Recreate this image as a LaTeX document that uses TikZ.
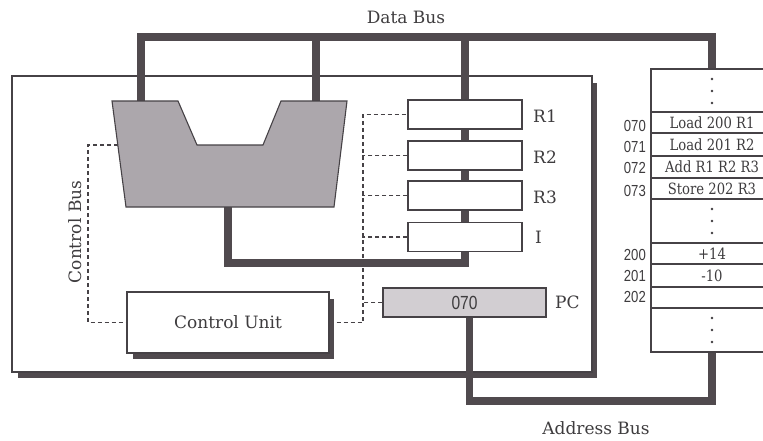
\documentclass[tikz,border=0pt]{standalone}
\usepackage{fontspec}
\setmainfont{DejaVu Serif}
\newfontfamily\memfont{DejaVu Serif}[FakeStretch=0.85]
\newfontfamily\numfont{Liberation Sans}[FakeStretch=0.82]
\usepackage{tikz}
\definecolor{busc}{RGB}{80,74,78}
\definecolor{alufill}{RGB}{172,167,172}
\definecolor{pcfill}{RGB}{210,206,210}
\definecolor{edge}{RGB}{70,66,70}
\definecolor{ink}{RGB}{62,60,62}
\begin{document}
\begin{tikzpicture}[x=1pt,y=-1pt,
  bus/.style={draw=busc, line width=7.5pt, line join=miter},
  box/.style={draw=edge, line width=1.1pt, fill=white},
  reg/.style={box, minimum width=114pt, minimum height=29pt, inner sep=0pt},
  lbl/.style={font=\fontsize{17}{19}\selectfont, text=ink, inner sep=0pt},
  pcval/.style={font=\numfont\fontsize{19}{20}\selectfont, text=ink},
  memtxt/.style={font=\memfont\fontsize{15.5}{17}\selectfont, text=ink, inner sep=0pt},
  addr/.style={font=\numfont\fontsize{16}{17}\selectfont, text=ink, anchor=east, inner sep=0pt},
  cell/.style={draw=edge, line width=1.1pt, fill=white, minimum width=122pt, inner sep=0pt},
  ctl/.style={draw=edge, line width=1.1pt, dash pattern=on 4pt off 3pt},
  dotm/.style={circle, fill=ink, inner sep=0pt, minimum size=2.8pt},
  shadowfill/.style={fill=busc, draw=none}]
\useasboundingbox (0,0) rectangle (763,440);
\clip (0,0) rectangle (763,440);

% CPU box with shadow
\fill[shadowfill] (18,83) rectangle (597,378);
\draw[box] (12,76) rectangle (592,372);

% ALU corner coordinates
\coordinate (a1) at (112,101);
\coordinate (a2) at (178,101);
\coordinate (a3) at (197,145);
\coordinate (a4) at (263,145);
\coordinate (a5) at (281,101);
\coordinate (a6) at (347,101);
\coordinate (a7) at (334,207);
\coordinate (a8) at (126,207);
\coordinate (aluL) at (141,101);
\coordinate (aluR) at (316,101);
\coordinate (aluB) at (228,207);
\coordinate (aluC) at (118,145);
\coordinate (dbL) at (141,37);
\coordinate (dbR) at (712,37);
\coordinate (dbM) at (465,37);
\coordinate (rbus) at (465,263);
\coordinate (abR) at (712,401);

% registers, control unit, PC (nodes defined first for dashed lines)
\node[reg] (R1) at (465,114.5) {};
\node[reg] (R2) at (465,155.5) {};
\node[reg] (R3) at (465,195.5) {};
\node[reg] (I) at (465,237) {};
\node[reg, minimum width=163pt, fill=pcfill, pcval] (PC) at (464.5,302.5) {070};
\node[box, minimum width=202pt, minimum height=61pt, lbl] (CU) at (228,322.5) {Control Unit};

% control bus (dashed)
\draw[ctl] (aluC) -- (88,145) |- (CU.west);
\draw[ctl] (CU.east) -| (363,114.5) -- (R1.west);
\draw[ctl] (R2.west) -- ++(-45,0);
\draw[ctl] (R3.west) -- ++(-45,0);
\draw[ctl] (I.west) -- ++(-45,0);
\draw[ctl] (PC.west) -- ++(-20,0);

% memory cells
\node[cell, minimum height=43pt] (mtop) at (712,90.5) {};
\node[cell, minimum height=21pt, memtxt] (m070) at (712,122.5) {Load 200 R1};
\node[cell, minimum height=23pt, memtxt] (m071) at (712,144.5) {Load 201 R2};
\node[cell, minimum height=22pt, memtxt] (m072) at (712,167) {Add R1 R2 R3};
\node[cell, minimum height=21pt, memtxt] (m073) at (712,188.5) {Store 202 R3};
\node[cell, minimum height=44pt] (mmid) at (712,221) {};
\node[cell, minimum height=21pt, memtxt] (m200) at (712,253.5) {+14};
\node[cell, minimum height=23pt, memtxt] (m201) at (712,275.5) {-10};
\node[cell, minimum height=21pt] (m202) at (712,297.5) {};
\node[cell, minimum height=44pt] (mbot) at (712,330) {};

% data bus
\draw[bus] (aluL) -- (dbL) -- (dbR) -- (mtop.north);
\draw[bus] (aluR) -- (aluR |- dbL);
\draw[bus] (aluB) |- (rbus) -- (dbM);

% address bus
\draw[bus] ([xshift=5pt]PC.south) |- (abR) -- (mbot.south);

% ALU
\filldraw[fill=alufill, draw=edge, line width=1.1pt]
  (a1) -- (a2) -- (a3) -- (a4) -- (a5) -- (a6) -- (a7) -- (a8) -- cycle;

% redraw registers over the bus
\node[reg] (R1b) at (R1) {};
\node[reg] (R2b) at (R2) {};
\node[reg] (R3b) at (R3) {};
\node[reg] (Ib) at (I) {};
\node[reg, minimum width=163pt, fill=pcfill, pcval] (PCb) at (PC) {070};

% control unit shadow and box
\fill[shadowfill] (133,299) rectangle (334,359);
\node[box, minimum width=202pt, minimum height=61pt, lbl] (CUb) at (CU) {Control Unit};

% memory dots
\node[dotm] (d1) at (712,79) {};
\node[dotm] (d2) at (712,91) {};
\node[dotm] (d3) at (712,103) {};
\node[dotm] (d4) at (712,209) {};
\node[dotm] (d5) at (712,221) {};
\node[dotm] (d6) at (712,233) {};
\node[dotm] (d7) at (712,318) {};
\node[dotm] (d8) at (712,330) {};
\node[dotm] (d9) at (712,342) {};

% addresses
\node[addr] (t070) at (646,126) {070};
\node[addr] (t071) at (646,147) {071};
\node[addr] (t072) at (646,168) {072};
\node[addr] (t073) at (646,191) {073};
\node[addr] (t200) at (646,255) {200};
\node[addr] (t201) at (646,276) {201};
\node[addr] (t202) at (646,297) {202};

% labels
\node[lbl, anchor=west] (lR1) at (533,116) {R1};
\node[lbl, anchor=west] (lR2) at (533,157) {R2};
\node[lbl, anchor=west] (lR3) at (533,197) {R3};
\node[lbl, anchor=west] (lI) at (535,237) {I};
\node[lbl, anchor=west] (lPC) at (555,302) {PC};
\node[lbl] (ldb) at (406,17) {Data Bus};
\node[lbl] (lab) at (596,428) {Address Bus};
\node[lbl, rotate=90] (lcb) at (75,232) {Control Bus};
\end{tikzpicture}
\end{document}
